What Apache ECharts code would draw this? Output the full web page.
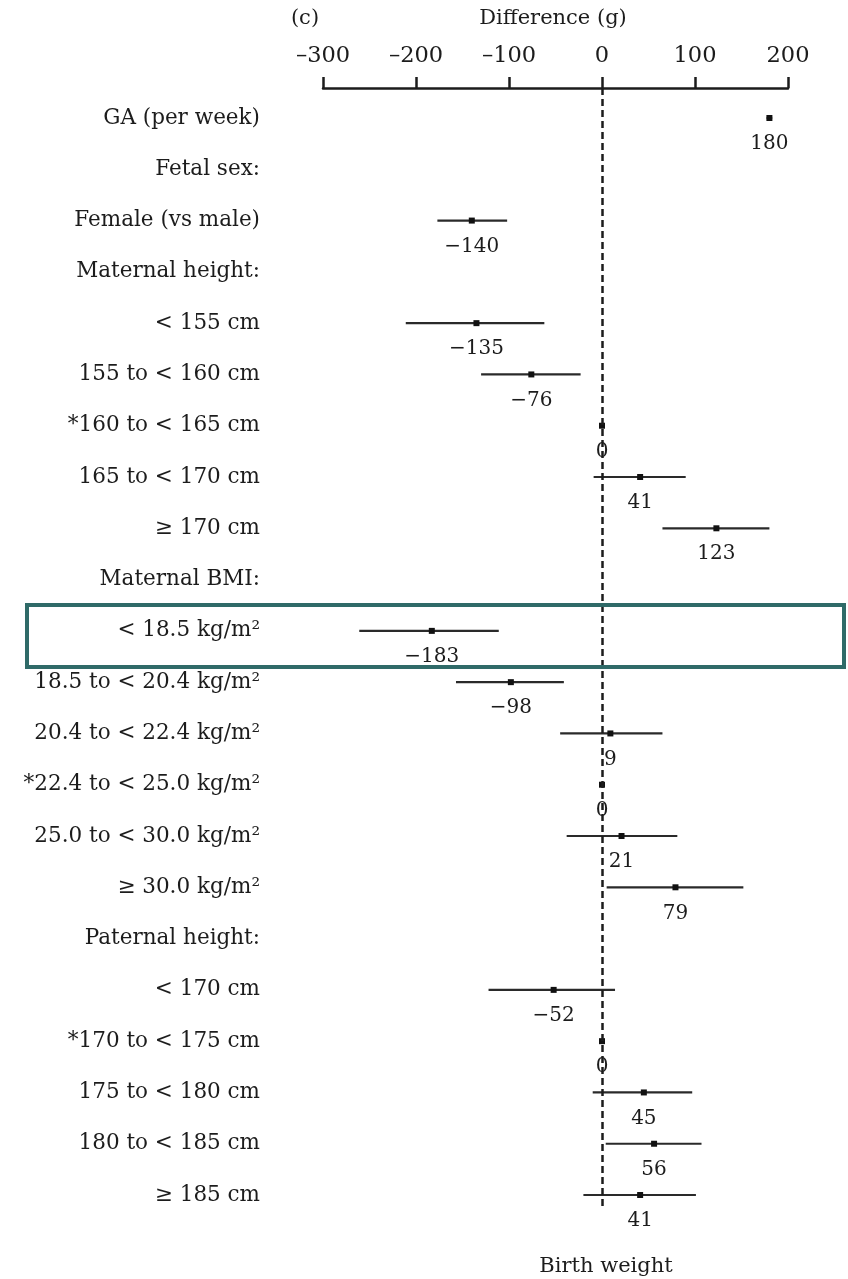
<!DOCTYPE html>
<html>
<head>
<meta charset="utf-8">
<style>
  html, body { margin: 0; padding: 0; background: #fff; }
  #chart { width: 848px; height: 1279px; }
</style>
<script src="https://cdn.jsdelivr.net/npm/echarts@6/dist/echarts.min.js"></script>
</head>
<body>
<div id="chart"></div>
<script>
// Row labels, top to bottom (header rows have no estimate)
const rowLabels = [
  'GA (per week)', 'Fetal sex:', 'Female (vs male)', 'Maternal height:',
  '< 155 cm', '155 to < 160 cm', '*160 to < 165 cm', '165 to < 170 cm', '≥ 170 cm',
  'Maternal BMI:', '< 18.5 kg/m²', '18.5 to < 20.4 kg/m²', '20.4 to < 22.4 kg/m²',
  '*22.4 to < 25.0 kg/m²', '25.0 to < 30.0 kg/m²', '≥ 30.0 kg/m²',
  'Paternal height:', '< 170 cm', '*170 to < 175 cm', '175 to < 180 cm',
  '180 to < 185 cm', '≥ 185 cm'
];
// Difference in birth weight (g) and 95% CI bounds
const estimates = [180, null, -140, null, -135, -76, 0, 41, 123, null, -183, -98, 9, 0, 21, 79, null, -52, 0, 45, 56, 41];
const ciLower   = [177, null, -177, null, -211, -130, 0, -9, 65, null, -261, -157, -45, 0, -38, 5, null, -122, 0, -10, 4, -20];
const ciUpper   = [183, null, -102, null, -62, -23, 0, 90, 180, null, -111, -41, 65, 0, 81, 152, null, 14, 0, 97, 107, 101];
const xTicks = [-300, -200, -100, 0, 100, 200];

const FONT = '"DejaVu Serif", "Liberation Serif", serif';
const INK = '#1c1c1c';
const enDash = s => String(s).replace('-', '–');
const minus = s => String(s).replace('-', '−');

const rowIdx = rowLabels.map((_, i) => i);
const pointData = [];
const ciData = [];
estimates.forEach((v, i) => {
  if (v === null) return;
  pointData.push([v, i]);
  ciData.push([ciLower[i], ciUpper[i], i]);
});

const chart = echarts.init(document.getElementById('chart'), null, { renderer: 'canvas' });

chart.setOption({
  backgroundColor: '#fff',
  animation: false,
  grid: { left: 323, right: 60, top: 88, bottom: 69 },
  xAxis: {
    type: 'value',
    position: 'top',
    min: xTicks[0],
    max: xTicks[xTicks.length - 1],
    interval: 100,
    axisLine: { show: true, onZero: false, lineStyle: { color: INK, width: 2.5 } },
    axisTick: { show: true, length: 11, lineStyle: { color: INK, width: 2.5 } },
    axisLabel: { margin: 20, color: INK, fontFamily: FONT, fontSize: 22.5, formatter: v => enDash(v) },
    splitLine: { show: false }
  },
  yAxis: {
    type: 'value',
    inverse: true,
    min: -0.585,
    max: 21.292,
    axisLine: { show: false },
    axisTick: { show: false },
    splitLine: { show: false },
    axisLabel: {
      customValues: rowIdx,
      margin: 63,
      color: INK,
      fontFamily: FONT,
      fontSize: 21.5,
      formatter: v => rowLabels[Math.round(v)] || ''
    }
  },
  graphic: [
    { type: 'text', x: 305, y: 19, style: { text: '(c)', font: '21px ' + FONT, fill: INK, align: 'center', verticalAlign: 'middle' } },
    { type: 'text', x: 553, y: 19, style: { text: 'Difference (g)', font: '21px ' + FONT, fill: INK, align: 'center', verticalAlign: 'middle' } },
    { type: 'text', x: 606, y: 1267, style: { text: 'Birth weight', font: '21px ' + FONT, fill: INK, align: 'center', verticalAlign: 'middle' } },
    { type: 'rect', z: 100, shape: { x: 27, y: 605, width: 817, height: 62 },
      style: { fill: 'none', stroke: '#2f6a68', lineWidth: 4 } }
  ],
  series: [
    {
      // confidence interval whiskers
      type: 'custom',
      data: ciData,
      encode: { x: [0, 1], y: 2 },
      renderItem: (params, api) => {
        const a = api.coord([api.value(0), api.value(2)]);
        const b = api.coord([api.value(1), api.value(2)]);
        return {
          type: 'line',
          shape: { x1: a[0], y1: a[1], x2: b[0], y2: b[1] },
          style: { stroke: '#2a2a2a', lineWidth: 2.2 }
        };
      },
      z: 2
    },
    {
      // point estimates with value labels
      type: 'scatter',
      data: pointData,
      symbol: 'rect',
      symbolSize: 6,
      itemStyle: { color: '#111', opacity: 1 },
      label: {
        show: true,
        position: 'bottom',
        distance: 13,
        color: INK,
        fontFamily: FONT,
        fontSize: 20,
        formatter: p => minus(p.value[0])
      },
      markLine: {
        silent: true,
        symbol: 'none',
        label: { show: false },
        lineStyle: { color: INK, width: 2.5, type: [7, 4], opacity: 1 },
        data: [{ xAxis: 0 }]
      },
      z: 3
    }
  ]
});
</script>
</body>
</html>
